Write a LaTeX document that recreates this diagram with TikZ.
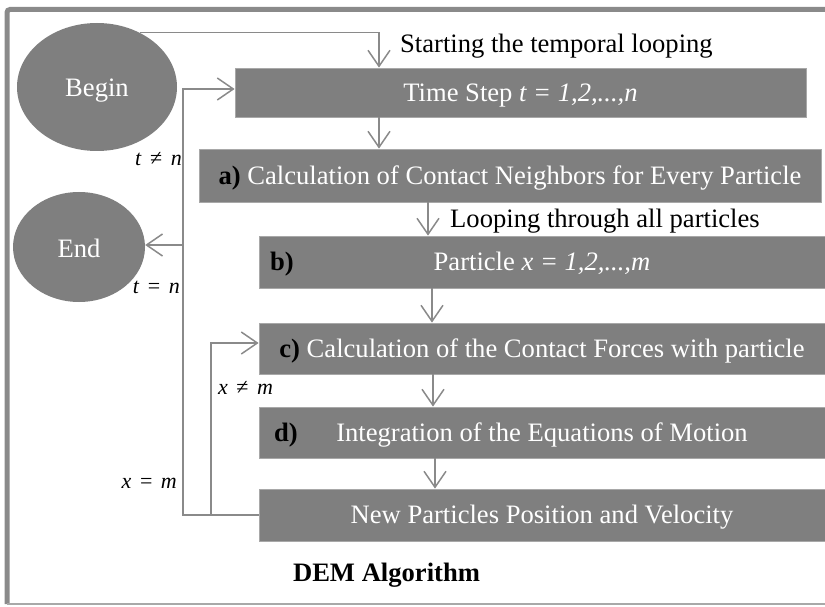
\documentclass[tikz,border=0pt]{standalone}
\usepackage{fontspec}
\setmainfont{Liberation Serif}
\usetikzlibrary{arrows.meta,shapes.geometric,calc}
\definecolor{boxgray}{HTML}{7F7F7F}
\definecolor{linegray}{HTML}{8A8A8A}
\definecolor{edgegray}{HTML}{A8A8A8}
\newcommand{\bigfont}{\fontsize{26.6}{30}\selectfont}
\newcommand{\relsp}{\hspace{8.5pt}}
\begin{document}
\begin{tikzpicture}[x=1pt,y=-1pt,
  box/.style={draw=edgegray, line width=0.8pt, fill=boxgray, text=white, inner sep=0pt,
    font=\bigfont, text height=17.6pt, text depth=0pt},
  oval/.style={ellipse, fill=boxgray, text=white, inner sep=0pt, font=\bigfont},
  tag/.style={text=black, inner sep=0pt, font=\bigfont\bfseries, text height=17.6pt, text depth=0pt},
  note/.style={text=black, inner sep=0pt, font=\bigfont},
  cond/.style={text=black, inner sep=0pt, font=\fontsize{22}{26}\selectfont},
  conn/.style={draw=linegray, line width=1.5pt, -{Straight Barb[length=16pt,width=22pt]}}]
\useasboundingbox (0,0) rectangle (825,607);
% frame
\draw[draw=linegray, line width=5pt, rounded corners=3pt] (825,9.5) -- (7,9.5) -- (7,604);
\draw[draw=edgegray, line width=2pt] (7,604) -- (825,604);
% ovals
\node[oval, minimum width=160pt, minimum height=128pt] (Begin) at (97,87) {};
\node[oval, minimum width=132pt, minimum height=110pt] (End) at (79,247) {};
\node[note, text=white, anchor=base] (BeginT) at (97,96.7) {Begin};
\node[note, text=white, anchor=base] (EndT) at (79,257) {End};
% boxes
\node[box, minimum width=571pt, minimum height=49pt] (Time) at (520.5,92.5)
  {Time Step \textit{t = 1,2,...,n}};
\node[box, minimum width=622pt, minimum height=53pt] (A) at (510,175.5)
  {\textcolor{black}{\textbf{a)}} Calculation of Contact Neighbors for Every Particle\hspace{8pt}};
\node[box, minimum width=566pt, minimum height=52pt] (B) at (542,262)
  {Particle \textit{x = 1,2,...,m}};
\node[box, minimum width=566pt, minimum height=51pt] (C) at (542,348.5)
  {\textcolor{black}{\textbf{c)}} Calculation of the Contact Forces with particle\hspace{10pt}};
\node[box, minimum width=566pt, minimum height=51pt] (D) at (542,432.5)
  {Integration of the Equations of Motion};
\node[box, minimum width=566pt, minimum height=52pt] (N) at (542,515)
  {New Particles Position and Velocity};
\node[tag, anchor=west] (Btag) at (270,262) {b)};
\node[tag, anchor=west] (Dtag) at (274,432.5) {d)};
% texts
\node[note, anchor=base west] (start) at (400,52.7) {Starting the temporal looping};
\node[note, anchor=base west] (loopp) at (450,227) {Looping through all particles};
\node[note, anchor=base, font=\bigfont\bfseries] (title) at (386.5,581) {DEM Algorithm};
\node[cond, anchor=base east] (tne) at (182,166) {\textit{t}\relsp≠\relsp\textit{n}};
\node[cond, anchor=base east] (teq) at (180,293) {\textit{t}\relsp=\relsp\textit{n}};
\node[cond, anchor=base west] (xne) at (218,394) {\textit{x}\relsp≠\relsp\textit{m}};
\node[cond, anchor=base east] (xeq) at (177,488) {\textit{x}\relsp=\relsp\textit{m}};
% x positions of connectors
\coordinate (k1) at (379,0);
\coordinate (k2) at (428,0);
\coordinate (k3) at (432,0);
\coordinate (k4) at (433,0);
\coordinate (k5) at (435,0);
\coordinate (outer) at (183,0);
\coordinate (inner) at (211,0);
\coordinate (tin) at ($(Time.west)+(0,-3.5)$);
\coordinate (cin) at ($(C.west)+(0,-5.5)$);
\coordinate (endy) at (0,245);
% connectors
\draw[conn] (Begin.52) -| (Time.north -| k1);
\draw[conn] (Time.south -| k1) -- (A.north -| k1);
\draw[conn] (A.south -| k2) -- (B.north -| k2);
\draw[conn] (B.south -| k3) -- (C.north -| k3);
\draw[conn] (C.south -| k4) -- (D.north -| k4);
\draw[conn] (D.south -| k5) -- (N.north -| k5);
\draw[conn] (N.west) -| (tin -| outer) -- (tin);
\draw[conn] (endy -| outer) -- (End.east |- endy);
\draw[conn] (N.west -| inner) -- (cin -| inner) -- (cin);
\end{tikzpicture}
\end{document}
